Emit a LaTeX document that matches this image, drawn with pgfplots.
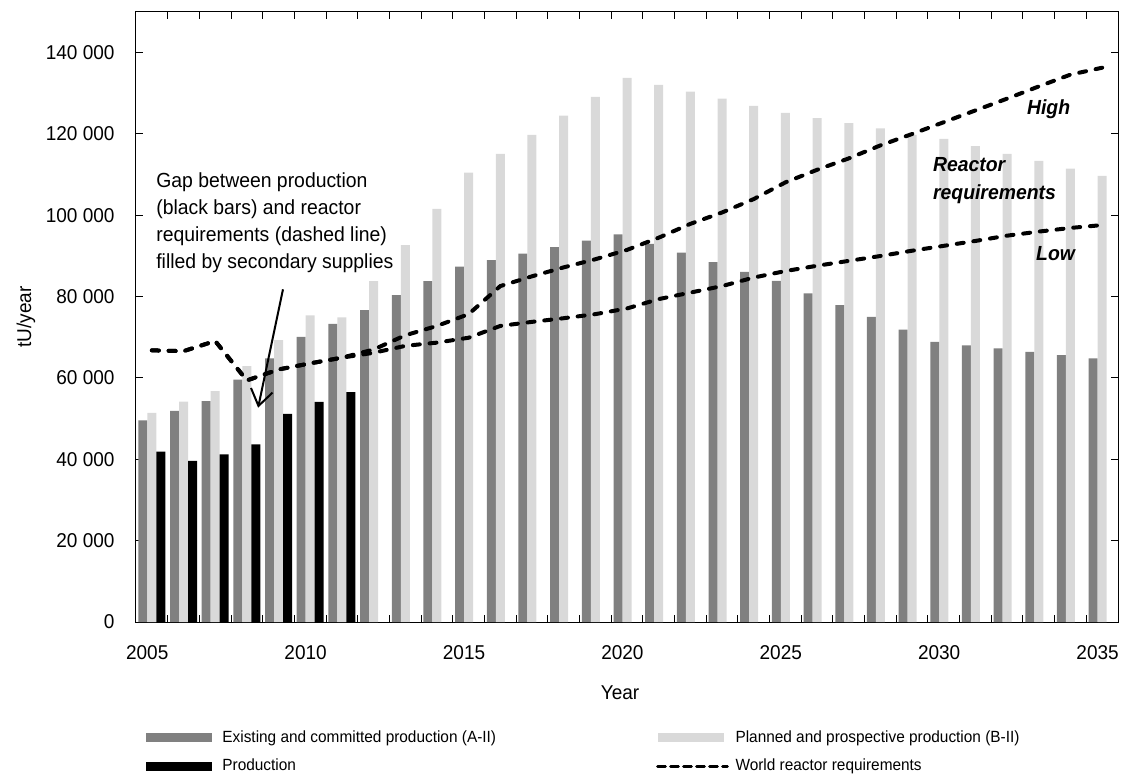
\documentclass[border=0pt]{standalone}
\usepackage{pgfplots}
\pgfplotsset{compat=1.18}
\usepackage{pgfplotstable}
\usepackage{fontspec}
\setmainfont{Liberation Sans}[FakeStretch=0.95]
\usetikzlibrary{arrows.meta}

\definecolor{darkbar}{HTML}{808080}
\definecolor{lightbar}{HTML}{D9D9D9}

% year index (0 = 2005), A-II, B-II in tU/year
\pgfplotstableread{
x A B
0 49600 51400
1 51900 54200
2 54300 56800
3 59600 62900
4 64800 69300
5 70100 75400
6 73300 74900
7 76700 83800
8 80400 92700
9 83800 101600
10 87400 110500
11 89000 115100
12 90600 119800
13 92200 124500
14 93800 129100
15 95300 133800
16 93000 132100
17 90800 130400
18 88500 128700
19 86100 126900
20 83900 125200
21 80800 123900
22 77900 122700
23 75000 121400
24 71900 119800
25 68900 118800
26 68000 117000
27 67300 115100
28 66400 113400
29 65600 111500
30 64800 109700
}\capacity

\pgfplotstableread{
x P
0 41900
1 39600
2 41200
3 43700
4 51200
5 54100
6 56500
}\production

\pgfplotstableread{
x high low
0 66800 66800
1 66600 66600
2 69100 69100
3 59400 59400
4 62100 62100
5 63600 63600
6 65000 65000
7 67000 66200
8 70500 67900
9 72800 68700
10 75700 69900
11 82600 72800
12 85000 73800
13 87200 74700
14 89200 75700
15 91500 77100
16 94500 79400
17 97900 81000
18 100700 82600
19 104000 84700
20 108100 86300
21 111200 87600
22 114000 88800
23 117200 90000
24 120000 91300
25 122900 92500
26 125800 93700
27 128700 95000
28 131700 96000
29 134600 96900
30 136300 97600
}\requirements

\begin{document}
\begin{tikzpicture}
\begin{axis}[
    name=ax,
    scale only axis,
    width=491pt, height=305pt,
    xmin=-0.5, xmax=30.5,
    ymin=0, ymax=150000,
    enlargelimits=false,
    ybar,
    bar width=4.5pt,
    axis line style={line width=0.5pt},
    xtick={-0.5,0.5,...,30.5},
    x tick label as interval,
    xticklabels={2005,,,,,2010,,,,,2015,,,,,2020,,,,,2025,,,,,2030,,,,,2035},
    ytick={0,20000,40000,60000,80000,100000,120000,140000},
    yticklabels={0,20 000,40 000,60 000,80 000,100 000,120 000,140 000},
    tick align=inside,
    major tick length=3.5pt,
    tick style={line width=0.5pt, black},
    tick label style={font=\fontsize{10}{12}\selectfont},
    xticklabel style={yshift=-8.2pt, xshift=-2.3pt},
    yticklabel style={xshift=-7.2pt},
    xlabel={Year},
    ylabel={tU/year},
    label style={font=\fontsize{10}{12}\selectfont},
    xlabel style={at={(rel axis cs:0.5,0)}, anchor=north, yshift=-28.2pt, xshift=-3.5pt},
    ylabel style={at={(axis description cs:-0.112,0.5)}, anchor=center},
    legend columns=2,
    legend cell align=left,
    legend style={draw=none, fill=none, at={(rel axis cs:0,0)}, anchor=north west,
        xshift=5pt, yshift=-52pt, inner sep=0pt,
        font=\fontsize{8.1}{9}\selectfont,
        /tikz/every even column/.append style={column sep=78pt},
        row sep=3pt},
]
\addplot[fill=darkbar, draw=none, bar shift=-4.5pt,
    legend image code/.code={\fill[darkbar] (0pt,-2.2pt) rectangle (33pt,2.2pt); \path (36pt,0pt);}]
    table[x=x, y=A] {\capacity};
\addlegendentry{Existing and committed production (A-II)}
\addplot[fill=lightbar, draw=none, bar shift=0pt,
    legend image code/.code={\fill[lightbar] (0pt,-2.2pt) rectangle (33pt,2.2pt); \path (36pt,0pt);}]
    table[x=x, y=B] {\capacity};
\addlegendentry{Planned and prospective production (B-II)}
\addplot[fill=black, draw=none, bar shift=4.5pt,
    legend image code/.code={\fill[black] (0pt,-2.2pt) rectangle (33pt,2.2pt); \path (36pt,0pt);}]
    table[x=x, y=P] {\production};
\addlegendentry{Production}
\addplot[sharp plot, mark=none, black, line width=2pt, line cap=round,
    dash pattern=on 3.5pt off 4.9pt,
    legend image code/.code={\draw[black, line width=1.4pt, dash pattern=on 4pt off 2.5pt] (0pt,0pt) -- (35pt,0pt); \path (36pt,0pt);}]
    table[x=x, y=high] {\requirements};
\addlegendentry{World reactor requirements}
\addplot[sharp plot, mark=none, black, line width=2pt, line cap=round,
    dash pattern=on 3.5pt off 4.9pt, forget plot]
    table[x=x, y=low] {\requirements};

\node[font=\fontsize{10.2}{13.5}\selectfont, align=left, anchor=west, inner sep=0pt]
    at (axis cs:0.13,98100)
    {Gap between production\\(black bars) and reactor\\requirements (dashed line)\\filled by secondary supplies};
\draw[line width=1pt, -{Straight Barb[length=8pt,width=11pt,line width=1pt]}]
    (axis cs:4.14,81800) -- (axis cs:3.355,52700);
\node[font=\fontsize{10.2}{12}\selectfont\bfseries\itshape] at (axis cs:28.31,126000) {High};
\node[font=\fontsize{10.2}{14}\selectfont\bfseries\itshape, align=left, anchor=west, inner sep=0pt]
    at (axis cs:24.65,108500) {Reactor\\requirements};
\node[font=\fontsize{10.2}{12}\selectfont\bfseries\itshape] at (axis cs:28.53,90500) {Low};
\end{axis}
\pgfresetboundingbox
\path ([shift={(-68pt,-76.5pt)}]ax.south west) rectangle ([shift={(2pt,6pt)}]ax.north east);
\end{tikzpicture}
\end{document}
